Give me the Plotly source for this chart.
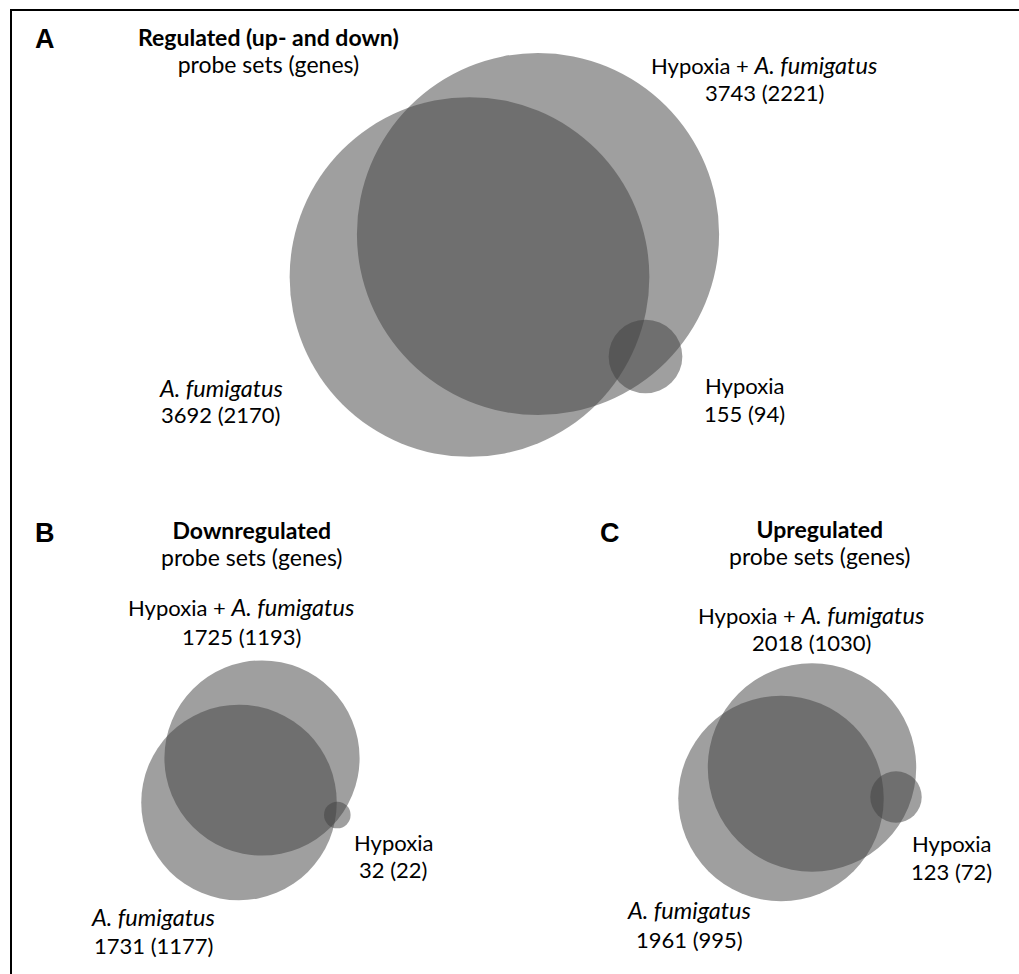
import math
import plotly.graph_objects as go

# ---- data -------------------------------------------------------------
panel_letters = ["A", "B", "C"]
panel_titles = ["Regulated (up- and down)", "Downregulated", "Upregulated"]
subtitle = "probe sets (genes)"

set_names = ["Hypoxia + <i>A. fumigatus</i>", "<i>A. fumigatus</i>", "Hypoxia"]

probes_regulated = [3743, 3692, 155]
genes_regulated = [2221, 2170, 94]

probes_down = [1725, 1731, 32]
genes_down = [1193, 1177, 22]

probes_up = [2018, 1961, 123]
genes_up = [1030, 995, 72]

probes = [probes_regulated, probes_down, probes_up]
genes = [genes_regulated, genes_down, genes_up]

# ---- layout (pixel coordinates on a 1019 x 974 canvas, y downwards) ---
W, H = 1019, 974
FONT = "Lato"
LABEL_SIZE = 22
ITALIC_SIZE = 23.5
TITLE_SIZE = 23
TITLE_LINE_BASE = 20.5      # base size of the title block -> line spacing 1.3 x base
LETTER_FONT = "Liberation Sans"
LETTER_SIZE = 27

# circle area proportional to probe-set count; one scale per panel
area_scale = [2.96, 2.35, 2.32]
# circle centres: [Hypoxia + A.f., A.f., Hypoxia]
centres = [
    [(538, 234), (469.5, 277), (645.5, 356.5)],
    [(262, 758), (239, 802.5), (337.3, 815)],
    [(812, 767.5), (781, 798.5), (896, 797)],
]
# panel letter: (x, baseline)
letter_pos = [(45, 48.5), (45, 542), (610, 542)]
# title block (bold title + subtitle): (x, baseline of the first line)
title_pos = [(268, 46), (252, 539), (820, 538)]
# set labels: two lines each (name, count), (x, baseline of name, baseline of count)
label_pos = [
    [(764, 73, 100.5), (220.5, 396.7, 423.3), (744, 394.3, 421.7)],
    [(241, 615, 645), (153, 925, 954), (393, 851, 878)],
    [(811, 623, 650.5), (689, 918.5, 947.5), (951, 852, 879.5)],
]

FILL = "rgba(64,64,64,0.5)"

fig = go.Figure()
shapes = []
annotations = []


def italic_sized(s):
    return s.replace("<i>", f"<i><span style='font-size:{ITALIC_SIZE}px'>").replace(
        "</i>", "</span></i>")


def text(x, y, s, family=FONT, size=LABEL_SIZE):
    annotations.append(dict(
        x=x, y=y, xref="x", yref="y", text=s, showarrow=False,
        xanchor="center", yanchor="middle", align="center",
        font=dict(family=family, size=size, color="black"),
    ))


for p in range(3):
    for k in range(3):
        cx, cy = centres[p][k]
        r = area_scale[p] * math.sqrt(probes[p][k])
        shapes.append(dict(
            type="circle", xref="x", yref="y",
            x0=cx - r, x1=cx + r, y0=cy - r, y1=cy + r,
            fillcolor=FILL, line=dict(width=0), layer="below",
        ))
        lx, b1, b2 = label_pos[p][k]
        text(lx, b1 - 8.5, italic_sized(set_names[k]))
        text(lx, b2 - 8.5, f"{probes[p][k]} ({genes[p][k]})")

    # panel letter
    lx, lb = letter_pos[p]
    text(lx, lb - 9.5, f"<b>{panel_letters[p]}</b>", family=LETTER_FONT, size=LETTER_SIZE)

    # title + subtitle in one block; the base size sets the tight line spacing
    tx, tb = title_pos[p]
    block = (f"<span style='font-size:{TITLE_SIZE}px'><b>{panel_titles[p]}</b></span>"
             f"<br><span style='font-size:{TITLE_SIZE}px'>{subtitle}</span>")
    text(tx, tb + 4.4, block, size=TITLE_LINE_BASE)

# frame (top and left edges)
shapes.append(dict(type="line", xref="x", yref="y", x0=10, x1=W, y0=10, y1=10,
                   line=dict(color="black", width=2)))
shapes.append(dict(type="line", xref="x", yref="y", x0=11, x1=11, y0=9, y1=H,
                   line=dict(color="black", width=2)))

axis = dict(visible=False, showgrid=False, zeroline=False, fixedrange=True)
fig.update_layout(
    width=W, height=H, autosize=False,
    margin=dict(l=0, r=0, t=0, b=0, pad=0),
    paper_bgcolor="white", plot_bgcolor="white",
    xaxis=dict(range=[0, W], **axis),
    yaxis=dict(range=[H, 0], **axis),
    shapes=shapes, annotations=annotations, showlegend=False,
)

fig.write_html("out.html", config={"displayModeBar": False})
